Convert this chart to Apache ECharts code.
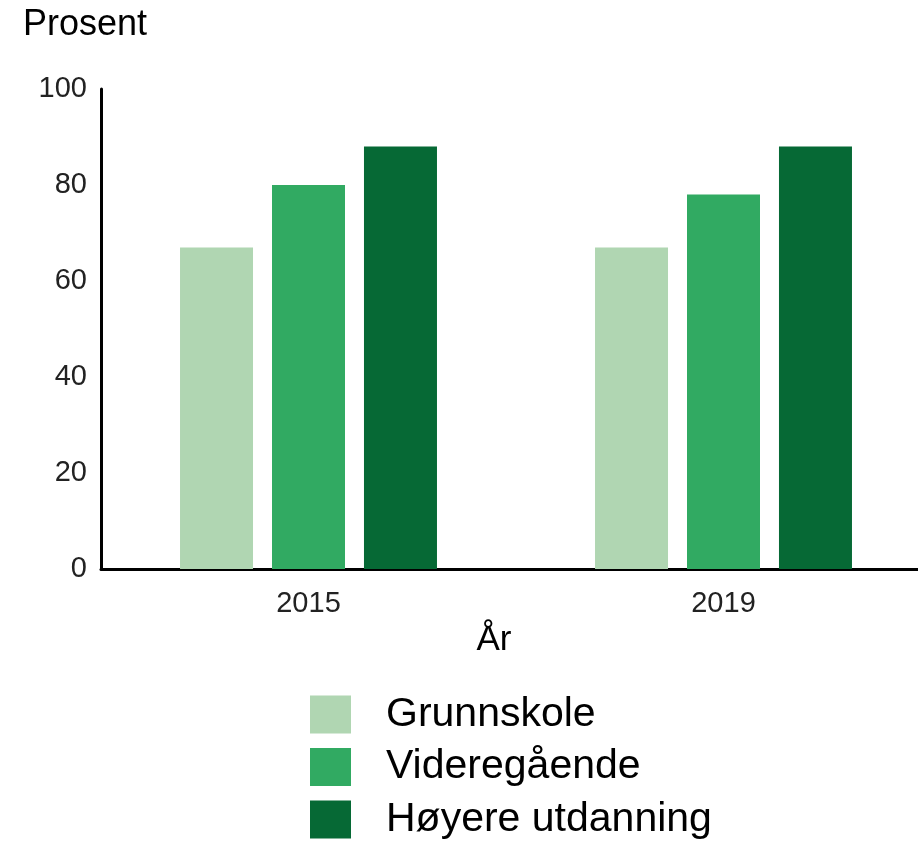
<!DOCTYPE html>
<html>
<head>
<meta charset="utf-8">
<script src="https://cdn.jsdelivr.net/npm/echarts@6/dist/echarts.min.js"></script>
<style>
  html, body { margin: 0; padding: 0; background: #fff; overflow: hidden; }
  #chart { width: 931px; height: 846px; }
</style>
</head>
<body>
<div id="chart"></div>
<script>
// data
var years = ['2015', '2019'];
var grunnskole = [67, 67];
var videregaende = [80, 78];
var hoyere = [88, 88];
var seriesNames = ['Grunnskole', 'Videregående', 'Høyere utdanning'];
var colors = ['#b0d6b2', '#31aa62', '#066935'];

var chart = echarts.init(document.getElementById('chart'));

var option = {
  animation: false,
  color: colors,
  // x axis runs past the right edge of the window, like in the original
  grid: {
    left: 101,
    top: 89,
    right: 0,
    bottom: 277
  },
  legend: {
    orient: 'vertical',
    left: 305,
    top: 689,
    height: 170,
    itemWidth: 41,
    itemHeight: 38,
    itemGap: 11.5,
    icon: 'rect',
    data: seriesNames,
    textStyle: {
      fontFamily: 'Liberation Sans',
      fontSize: 41,
      color: '#000',
      lineHeight: 38,
      padding: [0, 0, 0, 30]
    }
  },
  xAxis: {
    type: 'category',
    data: years,
    name: 'År',
    nameLocation: 'middle',
    nameGap: 52,
    nameTextStyle: {
      fontFamily: 'Liberation Sans',
      fontSize: 35,
      color: '#000',
      padding: [0, 44, 0, 0]
    },
    axisLine: { lineStyle: { color: '#000', width: 3 } },
    axisTick: { show: false },
    axisLabel: {
      fontFamily: 'Liberation Sans',
      fontSize: 29,
      color: '#222',
      margin: 20
    }
  },
  yAxis: {
    type: 'value',
    min: 0,
    max: 100,
    interval: 20,
    name: 'Prosent',
    nameLocation: 'end',
    nameGap: 46,
    nameTextStyle: {
      fontFamily: 'Liberation Sans',
      fontSize: 36,
      color: '#000',
      padding: [0, 32, 0, 0]
    },
    axisLine: { show: true, lineStyle: { color: '#000', width: 3 } },
    axisTick: { show: false },
    splitLine: { show: false },
    axisLabel: {
      fontFamily: 'Liberation Sans',
      fontSize: 29,
      color: '#222',
      margin: 14
    }
  },
  series: [{
    name: seriesNames[0],
    type: 'bar',
    barWidth: 73,
    barGap: '26%',
    data: grunnskole
  }, {
    name: seriesNames[1],
    type: 'bar',
    barWidth: 73,
    barGap: '26%',
    data: videregaende
  }, {
    name: seriesNames[2],
    type: 'bar',
    barWidth: 73,
    barGap: '26%',
    data: hoyere
  }]
};

chart.setOption(option);
</script>
</body>
</html>
